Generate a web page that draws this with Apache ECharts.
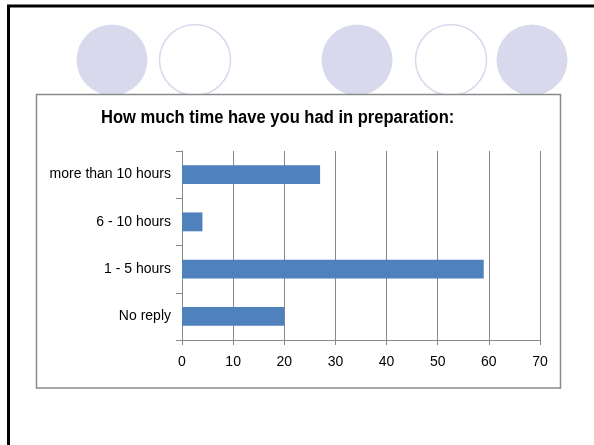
<!DOCTYPE html>
<html>
<head>
<meta charset="utf-8">
<script src="https://cdn.jsdelivr.net/npm/echarts@6/dist/echarts.min.js"></script>
<style>
  html, body { margin: 0; padding: 0; background: #fff; }
  #chart { width: 594px; height: 445px; }
</style>
</head>
<body>
<div id="chart"></div>
<script>
// data (bottom category first, echarts draws from the bottom up)
var categories = ['No reply', '1 - 5 hours', '6 - 10 hours', 'more than 10 hours'];
var hours = [20, 59, 4, 27];
var titleText = 'How much time have you had in preparation:';
var axisMin = 0, axisMax = 70, axisStep = 10;

var FONT = '"Liberation Sans", Arial, sans-serif';
var LAVENDER = '#d9d9ed';
var GRID_GREY = '#888888';

// slide decoration: row of circles on top
function circle(cx, filled) {
	return {
		type: 'circle',
		z: -20,
		shape: { cx: cx, cy: 60, r: 35.5 },
		style: filled ? { fill: LAVENDER } : { fill: '#fff', stroke: LAVENDER, lineWidth: 1.5 }
	};
}

var chart = echarts.init(document.getElementById('chart'));

var options = {
	backgroundColor: '#fff',
	animation: false,
	graphic: [
		circle(112, true),
		circle(195, false),
		circle(357, true),
		circle(451, false),
		circle(532, true),
		{
			// chart frame
			type: 'rect',
			z: -10,
			shape: { x: 36.5, y: 94.5, width: 524, height: 293.5 },
			style: { fill: '#fff', stroke: '#8a8a8a', lineWidth: 1.5 }
		},
		{
			// slide border, right and bottom edges fall off the page
			type: 'rect',
			z: -5,
			shape: { x: 8.5, y: 6, width: 620, height: 480 },
			style: { fill: null, stroke: '#000', lineWidth: 3 }
		},
		{
			// title, squeezed a little like the narrow powerpoint rendering
			type: 'text',
			z: 10,
			x: 101,
			y: 109,
			scaleX: 0.92,
			style: {
				text: titleText,
				fill: '#000',
				font: 'bold 18px ' + FONT,
				align: 'left',
				verticalAlign: 'top'
			}
		}
	],
	grid: {
		left: 182,
		right: 54,
		top: 151,
		bottom: 105
	},
	xAxis: {
		type: 'value',
		min: axisMin,
		max: axisMax,
		interval: axisStep,
		axisLine: { show: true, lineStyle: { color: GRID_GREY, width: 1 } },
		axisTick: { show: true, length: 5, lineStyle: { color: GRID_GREY } },
		axisLabel: { margin: 15, color: '#000', fontFamily: FONT, fontSize: 14 },
		splitLine: { show: true, lineStyle: { color: GRID_GREY, width: 1 } }
	},
	yAxis: {
		type: 'category',
		data: categories,
		axisLine: { show: true, lineStyle: { color: GRID_GREY, width: 1 } },
		axisTick: { show: true, length: 6, lineStyle: { color: GRID_GREY } },
		axisLabel: { margin: 11, color: '#000', fontFamily: FONT, fontSize: 14 },
		splitLine: { show: false }
	},
	series: [{
		type: 'bar',
		data: hours,
		barWidth: '40%',
		itemStyle: { color: '#4f81bd' }
	}]
};

chart.setOption(options);
</script>
</body>
</html>
